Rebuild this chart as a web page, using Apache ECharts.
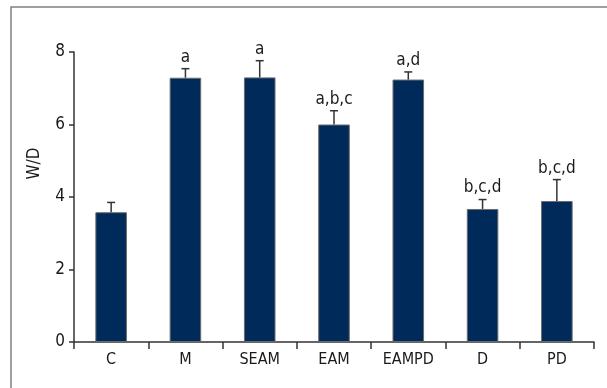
<!DOCTYPE html>
<html>
<head>
<meta charset="utf-8">
<title>W/D by group</title>
<script src="https://cdn.jsdelivr.net/npm/echarts@6/dist/echarts.min.js"></script>
<style>
  html, body { margin: 0; padding: 0; background: #fff; }
  #chart { width: 607px; height: 388px; }
</style>
</head>
<body>
<div id="chart"></div>
<script>
// Group names on the x axis
const categories = ['C', 'M', 'SEAM', 'EAM', 'EAMPD', 'D', 'PD'];
// Mean W/D ratio per group
const means = [3.58, 7.29, 7.30, 6.00, 7.24, 3.67, 3.89];
// Upper error (SD) per group
const errors = [0.27, 0.25, 0.46, 0.38, 0.21, 0.26, 0.59];
// Significance letters above each bar
const marks = ['', 'a', 'a', 'a,b,c', 'a,d', 'b,c,d', 'b,c,d'];
// Y axis ticks
const yTicks = [0, 2, 4, 6, 8];

const FONT = '"DejaVu Sans Condensed", "Liberation Sans Narrow", sans-serif';
const TEXT_COLOR = '#1a1a1a';
const AXIS_COLOR = '#333';

const chart = echarts.init(document.getElementById('chart'), null, { renderer: 'canvas' });

const errorData = means.map((m, i) => [i, m, errors[i]]);

chart.setOption({
  animation: false,
  backgroundColor: '#fff',
  graphic: [{
    type: 'rect',
    shape: { x: 11, y: 7, width: 640, height: 420 },
    style: { fill: 'none', stroke: '#808080', lineWidth: 1.5 },
    silent: true,
    z: -10
  }],
  grid: { left: 74, right: 13, top: 52, bottom: 46, containLabel: false },
  xAxis: {
    type: 'category',
    data: categories,
    boundaryGap: true,
    axisLine: { lineStyle: { color: AXIS_COLOR, width: 1.5 } },
    axisTick: { show: true, length: 7, interval: 0, lineStyle: { color: AXIS_COLOR, width: 1.5 } },
    axisLabel: { color: TEXT_COLOR, fontFamily: FONT, fontSize: 16, margin: 10, interval: 0 },
    splitLine: { show: false }
  },
  yAxis: {
    type: 'value',
    min: yTicks[0],
    max: yTicks[yTicks.length - 1],
    interval: yTicks[1] - yTicks[0],
    name: 'W/D',
    nameLocation: 'middle',
    nameGap: 31,
    nameTextStyle: { color: TEXT_COLOR, fontFamily: FONT, fontSize: 17, padding: [0, 0, 0, 67] },
    axisLine: { show: true, lineStyle: { color: AXIS_COLOR, width: 1.5 } },
    axisTick: { show: true, length: 5, lineStyle: { color: AXIS_COLOR, width: 1.5 } },
    axisLabel: { color: TEXT_COLOR, fontFamily: FONT, fontSize: 17, margin: 9 },
    splitLine: { show: false }
  },
  series: [
    {
      type: 'bar',
      data: means,
      barWidth: '42.5%',
      itemStyle: { color: '#002a5a', borderColor: '#6b6b6b', borderWidth: 1 },
      z: 2
    },
    {
      type: 'custom',
      data: errorData,
      z: 3,
      renderItem: function (params, api) {
        const idx = api.value(0);
        const mean = api.value(1);
        const err = api.value(2);
        const base = api.coord([idx, mean]);
        const tip = api.coord([idx, mean + err]);
        const cap = 4;
        const style = { stroke: '#333', lineWidth: 1.5 };
        return {
          type: 'group',
          children: [
            { type: 'line', shape: { x1: base[0], y1: base[1], x2: tip[0], y2: tip[1] }, style: style },
            { type: 'line', shape: { x1: tip[0] - cap, y1: tip[1], x2: tip[0] + cap, y2: tip[1] }, style: style },
            {
              type: 'text',
              x: tip[0],
              y: tip[1] - 3,
              style: {
                text: marks[params.dataIndex],
                fill: TEXT_COLOR,
                font: '17px ' + FONT,
                align: 'center',
                verticalAlign: 'bottom'
              }
            }
          ]
        };
      }
    }
  ]
});
</script>
</body>
</html>
